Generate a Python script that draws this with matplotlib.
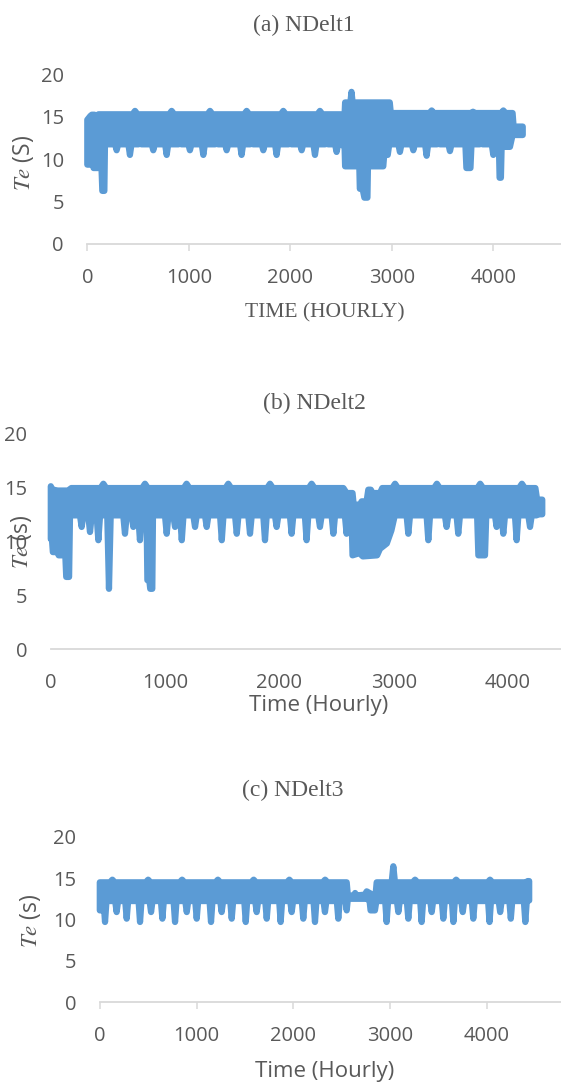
import numpy as np
import matplotlib.pyplot as plt

plt.rcParams['font.family'] = ['Open Sans', 'DejaVu Sans']
plt.rcParams['mathtext.fontset'] = 'stix'

BLUE = '#5B9BD5'
GRAY = '#595959'
LIGHT = '#D9D9D9'

# (a) NDelt1 : lower / upper edge of the hourly Te trace
A_LO_BASE = 11.75
A_LO_DIP_T = [289, 420, 519, 650, 782, 913, 1011, 1143, 1274, 1373, 1520, 1619, 1734, 1865, 1997,
              2112, 2243, 2358, 2456, 3080, 3212, 3343, 3460, 3573, 3880, 4000]
A_LO_DIP_V = [11.05, 10.5, 12.4, 11.05, 10.5, 12.4, 11.05, 10.5, 12.4, 11.05, 10.5, 12.4, 11.05,
              10.5, 12.4, 11.05, 10.5, 12.4, 10.85, 10.85, 11.05, 10.4, 12.4, 10.95, 12.4, 10.5]
A_LO_SHAPE = [(0, 9.35), (55, 9.35), (62, 8.95), (140, 8.95), (148, 6.25), (168, 6.25), (174, 11.75),
              (2505, 11.75), (2535, 11.4), (2540, 9.15), (2680, 9.15), (2685, 6.5), (2712, 6.5),
              (2730, 5.45), (2760, 5.45), (2765, 9.15), (2916, 9.15), (2925, 10.5), (2960, 10.5),
              (2975, 11.75), (3725, 11.75), (3735, 8.95), (3775, 8.95), (3785, 11.75),
              (4055, 11.75), (4062, 7.8), (4075, 7.8), (4082, 11.45), (4164, 11.45),
              (4190, 12.85), (4290, 12.85)]
A_HI_BASE = 15.3
A_HI_BUMP_T = [470, 831, 1209, 1570, 1931, 2292]
A_HI_BUMP_V = [15.7, 15.7, 15.7, 15.7, 15.7, 15.7]
A_HI_SHAPE = [(0, 14.65), (30, 15.1), (45, 15.25), (70, 15.25), (90, 15.0), (110, 15.3),
              (2535, 15.3), (2540, 16.7), (2592, 16.7), (2603, 17.95), (2614, 16.7), (2980, 16.7),
              (2990, 15.45), (3373, 15.45), (3393, 15.75), (3413, 15.45), (3780, 15.45),
              (3800, 15.6), (3820, 15.45), (4079, 15.45), (4099, 15.75), (4119, 15.45),
              (4190, 15.45), (4200, 13.85), (4290, 13.85)]

# (b) NDelt2
B_LO_BASE = 12.4
B_LO_DIP_T = [270, 343, 416, 509, 649, 722, 780, 1014, 1087, 1146, 1262, 1364, 1496, 1627, 1743,
              1874, 1976, 2107, 2238, 2355, 2472, 2588, 3128, 3303, 3463, 3565, 3901, 3959, 4076, 4193]
B_LO_DIP_V = [11.33, 10.86, 10.1, 5.6, 10.7, 11.33, 10.1, 10.7, 11.33, 10.1, 11.33, 11.33, 10.1, 10.7,
              10.7, 10.1, 11.33, 10.7, 10.1, 11.33, 10.7, 10.7, 10.7, 10.1, 11.33, 10.7, 11.33, 10.7,
              10.1, 11.33]
B_LO_SHAPE = [(0, 10.2), (10, 10.2), (18, 9.0), (60, 9.0), (69, 8.7), (127, 8.7), (135, 6.7),
              (160, 6.7), (168, 12.4), (838, 12.4), (845, 6.4), (862, 6.4), (870, 5.6), (888, 5.6),
              (894, 12.4), (2620, 12.4), (2632, 12.0), (2640, 8.7), (2700, 8.9), (2730, 8.6),
              (2855, 8.7), (2880, 9.3), (2940, 9.8), (2980, 11.0), (3010, 12.4), (3730, 12.4),
              (3741, 8.7), (3799, 8.7), (3810, 12.4), (4250, 12.4), (4266, 12.5), (4300, 12.5)]
B_HI_BASE = 14.93
B_HI_BUMP_T = [460, 824, 1188, 1553, 1918, 2282, 3012, 3378, 3757, 4122]
B_HI_BUMP_V = [15.33, 15.33, 15.33, 15.33, 15.33, 15.33, 15.33, 15.33, 15.33, 15.33]
B_HI_SHAPE = [(0, 15.1), (12, 14.8), (60, 14.7), (150, 14.7), (180, 14.93),
              (2560, 14.93), (2588, 14.47), (2640, 14.47), (2650, 13.4), (2705, 13.4), (2720, 13.7),
              (2763, 13.7), (2778, 14.78), (2800, 14.78), (2815, 14.47), (2880, 14.47), (2900, 14.93),
              (4240, 14.93), (4255, 13.86), (4300, 13.86)]

# (c) NDelt3
C_LO_BASE = 12.23
C_LO_DIP_T = [54, 174, 278, 416, 530, 647, 778, 899, 1002, 1150, 1260, 1364, 1509, 1622, 1726,
              1870, 1984, 2104, 2225, 2328, 2466, 2966, 3087, 3190, 3328, 3432, 3552, 3656, 3753,
              3862, 4030, 4140, 4250, 4400]
C_LO_DIP_V = [9.7, 10.9, 10.1, 9.7, 10.9, 10.1, 9.7, 10.9, 10.1, 9.7, 10.9, 10.1, 9.7, 10.9, 10.1,
              9.7, 10.9, 10.1, 9.7, 10.9, 10.1, 9.7, 10.9, 10.1, 9.7, 10.9, 10.1, 9.7, 10.9,
              10.1, 9.7, 10.9, 10.1, 9.7]
C_LO_SHAPE = [(0, 11.1), (20, 11.1), (30, 12.23), (2541, 12.23), (2553, 11.1), (2565, 12.5),
              (2770, 12.5), (2790, 12.2), (2800, 11.1), (2845, 11.1), (2860, 12.23),
              (4420, 12.23), (4440, 12.3)]
C_HI_BASE = 14.49
C_HI_BUMP_T = [130, 500, 851, 1221, 1591, 1960, 2330, 3260, 3685, 4035]
C_HI_BUMP_V = [14.81, 14.81, 14.81, 14.81, 14.81, 14.81, 14.81, 14.81, 14.81, 14.81]
C_HI_SHAPE = [(0, 14.49), (2553, 14.49), (2565, 12.9), (2630, 12.9), (2640, 13.2), (2650, 12.9),
              (2740, 13.0), (2760, 13.4), (2790, 13.2), (2850, 12.8), (2863, 14.49),
              (3018, 14.49), (3035, 16.43), (3052, 14.49), (4405, 14.49), (4425, 14.64),
              (4440, 14.64)]

X_TICKS = [0, 1000, 2000, 3000, 4000]
Y_TICKS = [0, 5, 10, 15, 20]


def edge(base, ts, vs, shape, half):
    pts = list(shape)
    for t, v in zip(ts, vs):
        pts += [(t - half, base), (t, v), (t + half, base)]
    pts.sort()
    a = np.array(pts, dtype=float)
    return a[:, 0], a[:, 1]


W, H = 561, 1086
fig = plt.figure(figsize=(W / 100, H / 100), dpi=100)

panels = [
    dict(left=87.3, top=74.5, bottom=243.8, xmax=4667, ticklen=5,
         lo=(A_LO_BASE, A_LO_DIP_T, A_LO_DIP_V, A_LO_SHAPE),
         hi=(A_HI_BASE, A_HI_BUMP_T, A_HI_BUMP_V, A_HI_SHAPE),
         title='(a) NDelt1', tpos=(304, 25),
         xlabel='TIME (HOURLY)', xserif=True, xpos=(325, 313),
         ylabel=r'$Te$ (S)', ypos=(23, 163)),
    dict(left=50.8, top=433.3, bottom=649.3, xmax=4464, ticklen=0,
         lo=(B_LO_BASE, B_LO_DIP_T, B_LO_DIP_V, B_LO_SHAPE),
         hi=(B_HI_BASE, B_HI_BUMP_T, B_HI_BUMP_V, B_HI_SHAPE),
         title='(b) NDelt2', tpos=(314, 403),
         xlabel='Time (Hourly)', xserif=False, xpos=(319, 705),
         ylabel=r'$Te$ (s)', ypos=(21.5, 541.7)),
    dict(left=99.8, top=836.7, bottom=1002.3, xmax=4769, ticklen=5,
         lo=(C_LO_BASE, C_LO_DIP_T, C_LO_DIP_V, C_LO_SHAPE),
         hi=(C_HI_BASE, C_HI_BUMP_T, C_HI_BUMP_V, C_HI_SHAPE),
         title='(c) NDelt3', tpos=(293, 790),
         xlabel='Time (Hourly)', xserif=False, xpos=(325, 1072),
         ylabel=r'$Te$ (s)', ypos=(30.4, 920.7)),
]

for p in panels:
    ax = fig.add_axes([p['left'] / W, 1 - p['bottom'] / H,
                       (W - p['left']) / W, (p['bottom'] - p['top']) / H])
    lo_t, lo_v = edge(*p['lo'], half=15)
    hi_t, hi_v = edge(*p['hi'], half=25)
    xs = np.concatenate([hi_t, lo_t[::-1]])
    ys = np.concatenate([hi_v, lo_v[::-1]])
    ax.fill(xs, ys, facecolor=BLUE, edgecolor=BLUE, linewidth=4.5,
            joinstyle='round', clip_on=False, zorder=3)

    ax.set_xlim(0, p['xmax'])
    ax.set_ylim(0, 20)
    ax.set_xticks(X_TICKS)
    ax.set_yticks(Y_TICKS)
    for s in ['top', 'right', 'left']:
        ax.spines[s].set_visible(False)
    ax.spines['bottom'].set_color(LIGHT)
    ax.spines['bottom'].set_linewidth(1.3)
    ax.tick_params(axis='y', length=0, pad=16.8, labelsize=14.5, labelcolor=GRAY)
    ax.tick_params(axis='x', length=p['ticklen'], width=1.1, color=LIGHT,
                   pad=17.1 - p['ticklen'], labelsize=14.5, labelcolor=GRAY)
    ax.patch.set_alpha(0)

    fig.text(p['tpos'][0] / W, 1 - p['tpos'][1] / H, p['title'],
             family='Liberation Serif', size=17, color=GRAY, ha='center', va='center')
    if p['xserif']:
        fig.text(p['xpos'][0] / W, 1 - p['xpos'][1] / H, p['xlabel'],
                 family='Liberation Serif', size=15.5, color=GRAY, ha='center', va='center')
    else:
        fig.text(p['xpos'][0] / W, 1 - p['xpos'][1] / H, p['xlabel'],
                 size=16, color=GRAY, ha='center', va='center')
    fig.text(p['ypos'][0] / W, 1 - p['ypos'][1] / H, p['ylabel'], rotation=90,
             size=16.5, color=GRAY, ha='center', va='center')

fig.savefig('out.png', dpi=100, facecolor='white')
